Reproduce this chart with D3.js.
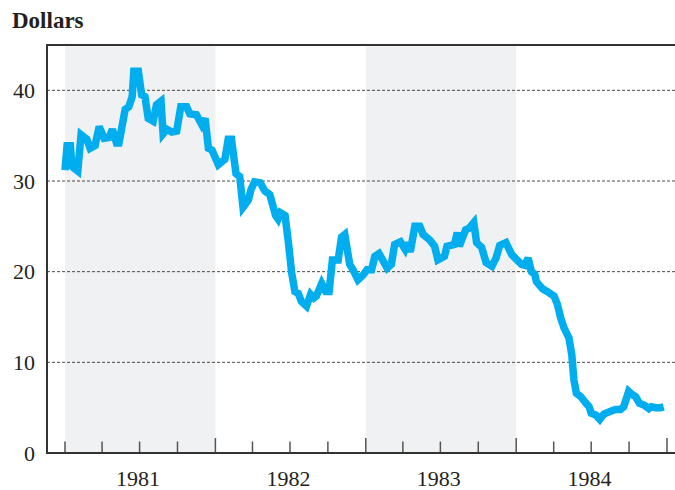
<!DOCTYPE html>
<html>
<head>
<meta charset="utf-8">
<script src="https://cdn.jsdelivr.net/npm/d3@7"></script>
<style>
  html, body { margin: 0; padding: 0; background: #fff; }
  svg { display: block; }
  text { font-family: "Liberation Serif", "Times New Roman", serif; fill: #231f20; }
</style>
</head>
<body>
<svg id="chart" width="675" height="490"></svg>
<script>
// ---- data ----
const dates = [
  "1981-01-01","1981-01-06","1981-01-14","1981-01-18","1981-02-01","1981-02-09","1981-02-23","1981-03-03",
  "1981-03-15","1981-03-25","1981-04-06","1981-04-18","1981-04-26","1981-05-06","1981-05-12","1981-05-27",
  "1981-06-05","1981-06-13","1981-06-17","1981-06-28","1981-07-06","1981-07-14","1981-07-22","1981-08-03",
  "1981-08-11","1981-08-22","1981-08-27","1981-09-05","1981-09-17","1981-09-29","1981-10-09","1981-10-23",
  "1981-10-31","1981-11-16","1981-11-29","1981-12-07","1981-12-15","1981-12-24",
  "1982-01-08","1982-01-24","1982-02-01","1982-02-09","1982-02-20","1982-03-01","1982-03-09","1982-03-22",
  "1982-03-28","1982-04-06","1982-04-20","1982-05-01","1982-05-13","1982-05-27","1982-06-02","1982-06-08",
  "1982-06-19","1982-06-27","1982-07-05","1982-07-13","1982-07-21","1982-07-29","1982-08-10","1982-08-20",
  "1982-08-28","1982-09-03","1982-09-16","1982-09-26","1982-10-04","1982-10-12","1982-10-26","1982-11-03",
  "1982-11-11","1982-11-23","1982-12-01","1982-12-13","1982-12-25",
  "1983-01-04","1983-01-15","1983-01-23","1983-02-02","1983-02-22","1983-03-04","1983-03-12","1983-03-26",
  "1983-04-06","1983-04-11","1983-04-19","1983-04-30","1983-05-12","1983-05-20","1983-06-05","1983-06-17",
  "1983-06-25","1983-07-11","1983-07-17","1983-08-04","1983-08-11","1983-08-16","1983-08-31","1983-09-09",
  "1983-09-20","1983-09-27","1983-10-09","1983-10-20","1983-11-03","1983-11-13","1983-11-22","1983-12-07",
  "1983-12-21",
  "1984-01-05","1984-01-14","1984-01-22","1984-01-30","1984-02-07","1984-02-15","1984-02-19","1984-03-05",
  "1984-03-17","1984-04-02","1984-04-10","1984-04-18","1984-04-26","1984-05-08","1984-05-15","1984-05-20",
  "1984-05-26","1984-06-06","1984-06-18","1984-06-26","1984-07-01","1984-07-12","1984-07-22","1984-08-01",
  "1984-08-17","1984-08-29","1984-09-10","1984-09-18","1984-09-30","1984-10-10","1984-10-17","1984-10-26",
  "1984-11-06","1984-11-18","1984-11-24","1984-12-04","1984-12-16","1984-12-24"
];
const prices = [
  31.2,33.9,33.9,31.6,31.1,35.1,34.6,33.6,
  33.9,36.0,34.7,34.8,35.7,34.2,34.2,37.9,
  38.2,39.3,42.1,42.1,39.5,39.3,36.9,36.6,
  38.4,38.8,35.2,35.7,35.4,35.5,38.2,38.2,
  37.4,37.3,36.2,36.9,33.6,33.4,
  31.8,32.4,34.6,34.6,30.8,30.5,27.1,27.9,
  29.0,29.9,29.8,28.9,28.5,26.2,25.8,26.5,
  26.2,23.3,19.9,17.8,17.6,16.7,16.2,17.5,
  17.1,17.3,18.7,17.8,17.8,21.3,21.3,23.8,
  24.1,20.8,20.2,19.1,19.6,
  20.2,20.2,21.7,22.0,20.4,20.8,23.0,23.3,
  22.5,23.2,22.2,25.0,25.0,24.1,23.5,22.8,
  21.3,21.7,22.8,23.0,24.3,22.8,24.6,24.8,
  25.4,23.2,22.7,21.0,20.6,21.5,22.9,23.2,
  21.9,
  21.2,20.8,20.7,21.5,20.0,19.7,18.9,18.1,
  17.8,17.3,16.4,14.9,13.8,12.7,10.8,8.1,
  6.6,6.2,5.5,5.1,4.4,4.2,3.7,4.3,
  4.6,4.8,4.8,5.1,6.8,6.4,6.2,5.5,
  5.3,4.9,5.1,5.0,5.0,5.1
];
const yTicks = [0, 10, 20, 30, 40];
const years = ["1981", "1982", "1983", "1984"];
const shadedYears = ["1981", "1983"];
const yTitle = "Dollars";

// ---- chart ----
const parse = d3.timeParse("%Y-%m-%d");
const data = dates.map((d, i) => ({ date: parse(d), value: prices[i] }));

const svg = d3.select("#chart");
const frameLeft = 47, frameRight = 675, frameTop = 45, frameBottom = 453;

const x = d3.scaleTime()
  .domain([new Date(1981, 0, 1), new Date(1985, 0, 1)])
  .range([65, 667]);
const y = d3.scaleLinear().domain([0, 45]).range([frameBottom, frameTop]);

// shaded bands
svg.append("g").selectAll("rect")
  .data(shadedYears)
  .join("rect")
  .attr("x", d => x(new Date(+d, 0, 1)))
  .attr("width", d => x(new Date(+d + 1, 0, 1)) - x(new Date(+d, 0, 1)))
  .attr("y", frameTop)
  .attr("height", frameBottom - frameTop)
  .attr("fill", "#f0f1f3");

// gridlines
svg.append("g").selectAll("line")
  .data(yTicks.filter(d => d > 0))
  .join("line")
  .attr("x1", frameLeft).attr("x2", frameRight)
  .attr("y1", d => y(d)).attr("y2", d => y(d))
  .attr("stroke", "#4a4a4a")
  .attr("stroke-width", 1)
  .attr("stroke-dasharray", "3,2");

// y tick labels
svg.append("g").selectAll("text")
  .data(yTicks)
  .join("text")
  .attr("x", 35)
  .attr("y", d => y(d))
  .attr("dy", "0.35em")
  .attr("text-anchor", "end")
  .attr("font-size", 22)
  .text(d => d);

// x ticks (quarterly, inside)
const quarters = d3.timeMonth.every(3).range(new Date(1981, 0, 1), new Date(1985, 0, 2));
svg.append("g").selectAll("line")
  .data(quarters)
  .join("line")
  .attr("x1", d => x(d)).attr("x2", d => x(d))
  .attr("y1", frameBottom)
  .attr("y2", (d, i) => frameBottom - ((d.getMonth() === 0 && i > 0) ? 15 : 11.5))
  .attr("stroke", "#555")
  .attr("stroke-width", 1.5);

// year labels
svg.append("g").selectAll("text")
  .data(years)
  .join("text")
  .attr("x", d => x(new Date(+d, 6, 2)) - 2)
  .attr("y", 486)
  .attr("text-anchor", "middle")
  .attr("font-size", 22)
  .text(d => d);

// frame lines
svg.append("line").attr("x1", frameLeft).attr("x2", frameRight)
  .attr("y1", frameTop).attr("y2", frameTop)
  .attr("stroke", "#333").attr("stroke-width", 2);
svg.append("line").attr("x1", frameLeft).attr("x2", frameRight)
  .attr("y1", frameBottom).attr("y2", frameBottom)
  .attr("stroke", "#333").attr("stroke-width", 2);
svg.append("line").attr("x1", frameLeft).attr("x2", frameLeft)
  .attr("y1", frameTop - 1).attr("y2", frameBottom + 1)
  .attr("stroke", "#333").attr("stroke-width", 2);

// price line
const line = d3.line().x(d => x(d.date)).y(d => y(d.value));
svg.append("path")
  .datum(data)
  .attr("d", line)
  .attr("fill", "none")
  .attr("stroke", "#00aeef")
  .attr("stroke-width", 7.5)
  .attr("stroke-linejoin", "miter")
  .attr("stroke-miterlimit", 3);

// axis title
svg.append("text")
  .attr("x", 12)
  .attr("y", 28)
  .attr("font-size", 23)
  .attr("font-weight", "bold")
  .text(yTitle);
</script>
</body>
</html>
